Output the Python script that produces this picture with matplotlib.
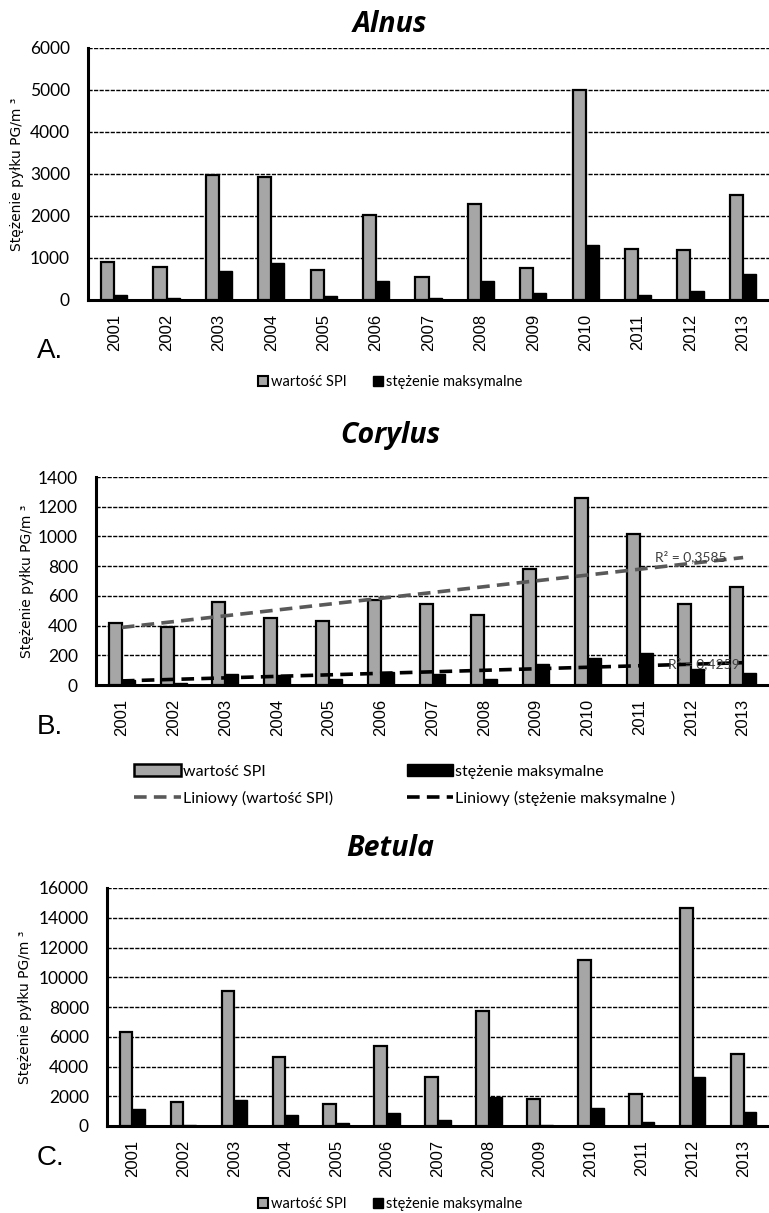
import numpy as np
import matplotlib
matplotlib.use('Agg')
import matplotlib.pyplot as plt
from matplotlib.patches import Patch
from matplotlib.lines import Line2D

years = ['2001', '2002', '2003', '2004', '2005', '2006', '2007',
         '2008', '2009', '2010', '2011', '2012', '2013']

alnus_spi = [910, 775, 2970, 2930, 710, 2020, 555, 2280, 770, 4995, 1225, 1190, 2495]
alnus_max = [115, 55, 690, 870, 90, 450, 55, 450, 155, 1320, 115, 220, 615]

corylus_spi = [416, 389, 556, 449, 429, 573, 544, 473, 784, 1258, 1018, 544, 662]
corylus_max = [33, 11, 73, 67, 40, 89, 71, 40, 140, 184, 216, 109, 82]
corylus_r2 = ['R² = 0,3585', 'R² = 0,4259']

betula_spi = [6300, 1630, 9060, 4670, 1470, 5410, 3310, 7760, 1790, 11140, 2170, 14650, 4810]
betula_max = [1160, 60, 1720, 740, 200, 890, 380, 1980, 60, 1230, 290, 3310, 960]

GRAY = '#a6a6a6'
TICKFONT = 'Lato'
W, H = 769, 1213

fig = plt.figure(figsize=(W / 100, H / 100), dpi=100)


def fx(px):
    return px / W


def fy(py):
    return 1 - py / H


def panel(rect, spi, mx, ymax, step, title, title_y, letter, letter_y, ylab_x):
    l, t, b = rect
    ax = fig.add_axes([fx(l), fy(b), 1.0 - fx(l), fy(t) - fy(b)])
    x = np.arange(len(years))
    w = 0.25
    ax.bar(x - w / 2, spi, w, color=GRAY, edgecolor='black', linewidth=1.6, zorder=3)
    ax.bar(x + w / 2, mx, w, color='black', edgecolor='black', linewidth=1.0, zorder=3)
    ax.set_xlim(-0.5, len(years) - 0.5)
    ax.set_ylim(0, ymax)
    ax.set_yticks(np.arange(0, ymax + 1, step))
    ax.yaxis.grid(True, color='black', linestyle=(0, (3, 1)), linewidth=1.0)
    ax.set_axisbelow(True)
    for s in ['top', 'right']:
        ax.spines[s].set_visible(False)
    for s in ['left', 'bottom']:
        ax.spines[s].set_linewidth(2.2)
    ax.set_xticks(x)
    ax.set_xticklabels(years, rotation=90, fontsize=12, family='Liberation Sans')
    ax.tick_params(axis='x', length=0, pad=10)
    ax.tick_params(axis='y', length=0, pad=13, labelsize=12.5)
    for lab in ax.get_yticklabels():
        lab.set_family(TICKFONT)
    fig.text(fx(390), fy(title_y), title, ha='center', va='center', fontsize=20.5,
             fontweight='bold', fontstyle='italic', family='Open Sans')
    fig.text(fx(37), fy(letter_y), letter, ha='left', va='baseline', fontsize=20,
             family='Liberation Sans')
    fig.text(fx(ylab_x), fy((t + b) / 2), 'Stężenie pyłku PG/m ³', rotation=90,
             ha='center', va='center', fontsize=10, family='DejaVu Sans')
    return ax


def small_legend(y):
    h = [Patch(facecolor=GRAY, edgecolor='black', linewidth=1.5),
         Patch(facecolor='black', edgecolor='black')]
    fig.legend(h, ['wartość SPI', 'stężenie maksymalne'], loc='center',
               bbox_to_anchor=(fx(390), fy(y)), ncol=2, frameon=False,
               handlelength=0.7, handleheight=0.7, handletextpad=0.2,
               columnspacing=1.8, prop={'family': TICKFONT, 'size': 10.5})


# A. Alnus
panel((88, 48, 300), alnus_spi, alnus_max, 6000, 1000, 'Alnus', 25, 'A.', 358, 17)
small_legend(382)

# B. Corylus
axb = panel((96, 477, 685), corylus_spi, corylus_max, 1400, 200, 'Corylus', 435, 'B.', 734, 27)
xi = np.arange(len(years))
for vals, col, lab, (tx, ty) in [(corylus_spi, '#595959', corylus_r2[0], (10.3, 860)),
                                 (corylus_max, 'black', corylus_r2[1], (10.55, 142))]:
    k, c = np.polyfit(xi + 1, vals, 1)
    axb.plot(xi, k * (xi + 1) + c, color=col, linestyle=(0, (3.5, 2)), linewidth=2.6, zorder=4)
    axb.text(tx, ty, lab, fontsize=10, color='#404040', family=TICKFONT, va='center', zorder=5)

hb = [Patch(facecolor=GRAY, edgecolor='black', linewidth=1.8),
      Line2D([], [], color='#595959', linestyle=(0, (3.5, 2)), linewidth=2.6),
      Patch(facecolor='black', edgecolor='black'),
      Line2D([], [], color='black', linestyle=(0, (3.5, 2)), linewidth=2.6)]
fig.legend(hb, ['wartość SPI', 'Liniowy (wartość SPI)', 'stężenie maksymalne',
                'Liniowy (stężenie maksymalne )'],
           loc='upper left', bbox_to_anchor=(fx(120), fy(750)), ncol=2, frameon=False,
           handlelength=2.9, handleheight=0.7, handletextpad=0.15, columnspacing=4.6,
           labelspacing=0.75, prop={'family': TICKFONT, 'size': 11.5})

# C. Betula
panel((107, 888, 1126), betula_spi, betula_max, 16000, 2000, 'Betula', 848, 'C.', 1165, 25)
small_legend(1204)

fig.savefig('out.png', dpi=100)
